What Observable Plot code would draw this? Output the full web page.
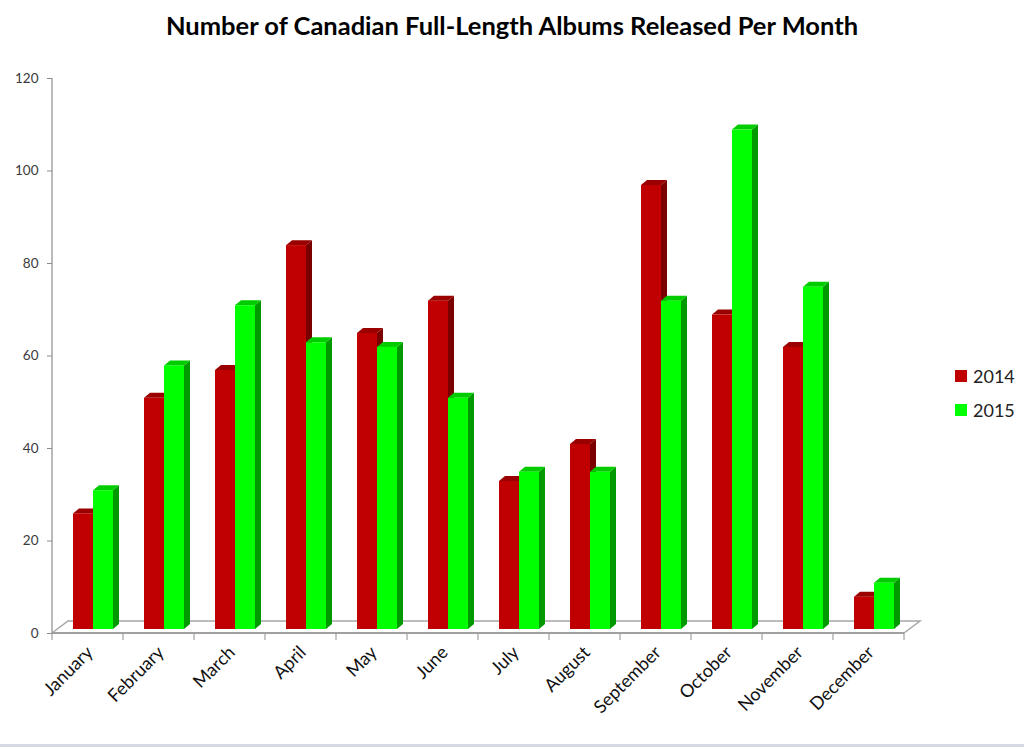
<!DOCTYPE html>
<html>
<head>
<meta charset="utf-8">
<script src="https://cdn.jsdelivr.net/npm/d3@7"></script>
<script src="https://cdn.jsdelivr.net/npm/@observablehq/plot@0.6"></script>
<style>
  html, body { margin: 0; padding: 0; background: #fff; }
  #wrap { position: relative; width: 1024px; height: 747px; overflow: hidden; font-family: Lato, "Open Sans", sans-serif; }
  #title { position: absolute; left: 0; top: 10px; width: 1024px; text-align: center; font-weight: bold; font-size: 25.5px; color: #000; }
  #chart { position: absolute; left: 0; top: 55px; }
  #legend { position: absolute; left: 955px; top: 359px; font-size: 18px; color: #222; }
  .item { display: flex; align-items: center; height: 34px; }
  .sw { width: 12px; height: 12px; margin-right: 6px; }
  #border { position: absolute; left: 0; top: 744px; width: 1024px; height: 3px; background: #d4dbe2; }
</style>
</head>
<body>
<div id="wrap">
  <div id="title">Number of Canadian Full-Length Albums Released Per Month</div>
  <div id="chart"></div>
  <div id="legend"></div>
  <div id="border"></div>
</div>
<script>
const months = ["January","February","March","April","May","June","July","August","September","October","November","December"];
const years = ["2014", "2015"];
const values2014 = [25, 50, 56, 83, 64, 71, 32, 40, 96, 68, 61, 7];
const values2015 = [30, 57, 70, 62, 61, 50, 34, 34, 71, 108, 74, 10];
const yTicks = [0, 20, 40, 60, 80, 100, 120];

const colors = {
  "2014": {front: "#c00000", side: "#7a0000", top: "#9a0000"},
  "2015": {front: "#00ff00", side: "#009a00", top: "#00cc00"}
};

const data = [];
months.forEach((m, i) => {
  data.push({month: m, year: "2014", value: values2014[i]});
  data.push({month: m, year: "2015", value: values2015[i]});
});

// bar geometry within each band (style, not data)
const barStyle = {"2014": {insetLeft: 21, insetRight: 30}, "2015": {insetLeft: 41, insetRight: 10}};
const lift = 4, depthX = 6, depthY = 5;

const svgNS = "http://www.w3.org/2000/svg";
function el(name, attrs) {
  const e = document.createElementNS(svgNS, name);
  for (const k in attrs) e.setAttribute(k, attrs[k]);
  return e;
}

// floor, axis lines and tick marks drawn from the scales
function floorMark(index, scales) {
  const x = scales.x, y = scales.y;
  const bw = x.bandwidth ? x.bandwidth() : (x(months[1]) - x(months[0]));
  const x0 = x(months[0]), x1 = x(months[months.length - 1]) + bw;
  const y0 = y(0), yTop = y(120);
  const g = el("g", {stroke: "#a6a6a6", fill: "none", "stroke-width": 1.5});
  g.appendChild(el("path", {d: `M${x0},${y0}L${x0 + 16},${y0 - 12}L${x1 + 16},${y0 - 12}L${x1},${y0}`}));
  g.appendChild(el("line", {x1: x0, x2: x1, y1: y0, y2: y0, stroke: "#a0a0a0", "stroke-width": 2}));
  g.appendChild(el("line", {x1: x0, x2: x0, y1: yTop, y2: y0, stroke: "#8c8c8c", "stroke-width": 1.2}));
  for (let i = 0; i <= months.length; i++) {
    const xb = x0 + i * bw;
    g.appendChild(el("line", {x1: xb, x2: xb, y1: y0, y2: y0 + 7, stroke: "#a0a0a0", "stroke-width": 1.2}));
  }
  return g;
}

// 3D side and top faces of each bar, from the scales
function facesMark(index, scales) {
  const x = scales.x, y = scales.y;
  const bw = x.bandwidth ? x.bandwidth() : (x(months[1]) - x(months[0]));
  const g = el("g", {});
  data.forEach(d => {
    const s = barStyle[d.year];
    const xl = x(d.month) + s.insetLeft;
    const xr = x(d.month) + bw - s.insetRight;
    const yb = y(0) - lift;
    const yt = y(d.value) - lift;
    g.appendChild(el("path", {d: `M${xr},${yt}L${xr + depthX},${yt - depthY}L${xr + depthX},${yb - depthY}L${xr},${yb}Z`, fill: colors[d.year].side}));
    g.appendChild(el("path", {d: `M${xl},${yt}L${xl + depthX},${yt - depthY}L${xr + depthX},${yt - depthY}L${xr},${yt}Z`, fill: colors[d.year].top}));
  });
  return g;
}

const plot = Plot.plot({
  width: 1024,
  height: 692,
  marginTop: 23,
  marginBottom: 114,
  marginLeft: 52,
  marginRight: 120,
  style: {fontFamily: "Lato, 'Open Sans', sans-serif", background: "transparent"},
  x: {domain: months, padding: 0, label: null},
  y: {domain: [0, 120], label: null},
  marks: [
    floorMark,
    facesMark,
    ...years.map(yr => Plot.barY(data.filter(d => d.year === yr), {
      x: "month", y: "value", fill: colors[yr].front, dy: -lift,
      insetLeft: barStyle[yr].insetLeft, insetRight: barStyle[yr].insetRight
    })),
    Plot.axisY({ticks: yTicks, tickSize: 5, tickPadding: 9, fontSize: 13.5, color: "#3a3a3a", stroke: "#8c8c8c", tickFormat: d => String(d)}),
    Plot.axisX({tickRotate: -45, tickSize: 0, tickPadding: 16, fontSize: 18, color: "#111", dx: 2})
  ]
});
document.getElementById("chart").appendChild(plot);

const legend = document.getElementById("legend");
years.forEach(yr => {
  const item = document.createElement("div");
  item.className = "item";
  const sw = document.createElement("div");
  sw.className = "sw";
  sw.style.background = colors[yr].front;
  const t = document.createElement("span");
  t.textContent = yr;
  item.appendChild(sw); item.appendChild(t);
  legend.appendChild(item);
});
</script>
</body>
</html>
